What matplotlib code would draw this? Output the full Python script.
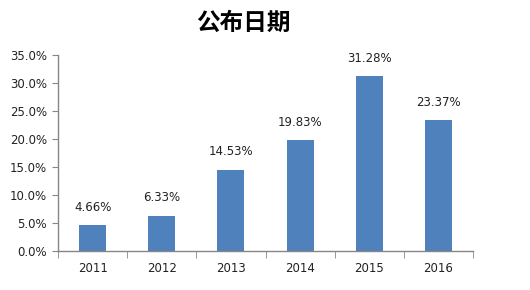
import matplotlib.pyplot as plt
import numpy as np
from matplotlib.ticker import FuncFormatter

plt.rcParams['font.family'] = ['Noto Sans CJK SC', 'DejaVu Sans']

years = ['2011', '2012', '2013', '2014', '2015', '2016']
values = [4.66, 6.33, 14.53, 19.83, 31.28, 23.37]

fig = plt.figure(figsize=(5.3, 2.9), dpi=100)
ax = fig.add_axes([0.1094, 0.1345, 0.7831, 0.6758])

x = np.arange(len(years))
ax.bar(x, values, width=0.39, color='#4F81BD')
for xi, v in zip(x, values):
    ax.text(xi, v + 2.0, '%.2f%%' % v, ha='center', va='bottom',
            fontsize=8.5, family='DejaVu Sans', color='#222222')

ax.set_xlim(-0.5, len(years) - 0.5)
ax.set_ylim(0, 35)
ax.set_yticks(np.arange(0, 36, 5))
ax.yaxis.set_major_formatter(FuncFormatter(lambda v, p: '%.1f%%' % v))
ax.set_xticks(x)
ax.set_xticklabels(years)
ax.set_xticks(np.arange(-0.5, len(years), 1), minor=True)
ax.tick_params(axis='x', which='major', length=0, pad=8)
ax.tick_params(axis='x', which='minor', length=5, color='#868686')
ax.tick_params(axis='y', length=4, color='#868686', pad=4)
for lab in ax.get_xticklabels() + ax.get_yticklabels():
    lab.set_fontsize(8.5)
    lab.set_family('DejaVu Sans')
    lab.set_color('#222222')

for s in ['top', 'right']:
    ax.spines[s].set_visible(False)
for s in ['left', 'bottom']:
    ax.spines[s].set_color('#868686')
    ax.spines[s].set_linewidth(1.0)

# titre un peu a gauche du centre, comme l'original
fig.text(0.459, 0.92, '公布日期', ha='center', va='center', fontsize=17,
         fontweight='bold', color='black')

fig.savefig('out.png', dpi=100)
